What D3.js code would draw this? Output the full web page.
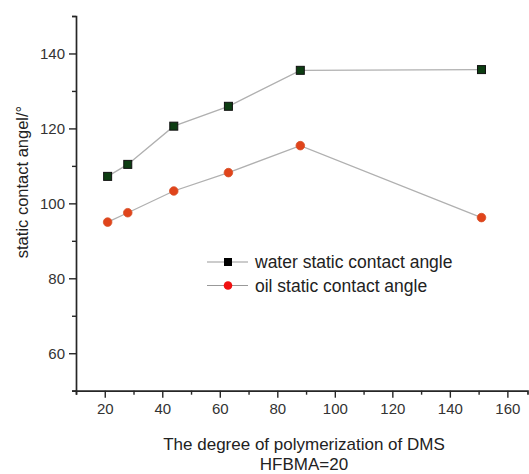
<!DOCTYPE html>
<html>
<head>
<meta charset="utf-8">
<script src="https://cdn.jsdelivr.net/npm/d3@7"></script>
<style>
  html, body { margin: 0; padding: 0; background: #fff; }
  svg { display: block; font-family: "Liberation Sans", Arial, sans-serif; }
</style>
</head>
<body>
<svg id="chart" width="529" height="474"></svg>
<script>
// Degree of polymerization of DMS (x) and static contact angles (y, degrees)
const dpDMS = [21, 28, 44, 63, 88, 151];
const waterAngle = [107.2, 110.4, 120.6, 125.9, 135.5, 135.7];
const oilAngle = [95.0, 97.5, 103.3, 108.2, 115.4, 96.2];
const xTicks = [20, 40, 60, 80, 100, 120, 140, 160];
const yTicks = [60, 80, 100, 120, 140];
const seriesNames = ["water static contact angle", "oil static contact angle"];

const svg = d3.select("#chart");
const x = d3.scaleLinear().domain([10, 167]).range([76, 527.5]);
const y = d3.scaleLinear().domain([50, 150]).range([390.7, 16]);

const axisColor = "#262626";

// X axis: labelled majors every 20, minors every 10
const gx = svg.append("g").attr("transform", `translate(0,${y(50)})`);
gx.call(d3.axisBottom(x).tickValues(d3.range(10, 170, 10)).tickSize(4).tickFormat(""));
gx.call(g => g.selectAll(".tick").filter(d => xTicks.includes(d)).select("line").attr("y2", 7));
gx.selectAll(".tick").filter(d => xTicks.includes(d)).append("text")
  .attr("y", 13).attr("dy", "0.71em").attr("fill", "#333").attr("font-size", 15)
  .attr("text-anchor", "middle").text(d => d);

// Y axis: labelled majors every 20, minors every 10
const gy = svg.append("g").attr("transform", `translate(${x(10)},0)`);
gy.call(d3.axisLeft(y).tickValues(d3.range(50, 151, 10)).tickSize(4).tickFormat(""));
gy.call(g => g.selectAll(".tick").filter(d => yTicks.includes(d)).select("line").attr("x2", -7));
gy.selectAll(".tick").filter(d => yTicks.includes(d)).append("text")
  .attr("x", -11).attr("dy", "0.35em").attr("fill", "#333").attr("font-size", 15)
  .attr("text-anchor", "end").text(d => d);

svg.selectAll(".domain").attr("stroke", axisColor).attr("stroke-width", 1.7);
svg.selectAll(".tick line").attr("stroke", axisColor).attr("stroke-width", 1.4);

// Series lines
const line = d3.line().x(d => x(d[0])).y(d => y(d[1]));
const waterPts = dpDMS.map((v, i) => [v, waterAngle[i]]);
const oilPts = dpDMS.map((v, i) => [v, oilAngle[i]]);

[waterPts, oilPts].forEach(pts => {
  svg.append("path").datum(pts).attr("d", line)
    .attr("fill", "none").attr("stroke", "#b0b0b0").attr("stroke-width", 1.3);
});

// Markers
svg.append("g").selectAll("rect").data(waterPts).join("rect")
  .attr("x", d => x(d[0]) - 4).attr("y", d => y(d[1]) - 4)
  .attr("width", 8).attr("height", 8)
  .attr("fill", "#0d3d12").attr("stroke", "#111").attr("stroke-width", 1);

svg.append("g").selectAll("circle").data(oilPts).join("circle")
  .attr("cx", d => x(d[0])).attr("cy", d => y(d[1])).attr("r", 4.3)
  .attr("fill", "#e0441b").attr("stroke", "#d8522a").attr("stroke-width", 0.8);

// Legend
const legend = svg.append("g").attr("transform", "translate(207,262)");
seriesNames.forEach((name, i) => {
  const row = legend.append("g").attr("transform", `translate(0,${i * 23.5})`);
  row.append("line").attr("x1", 0).attr("x2", 41).attr("y1", 0).attr("y2", 0)
    .attr("stroke", "#999").attr("stroke-width", 1.2);
  if (i === 0) {
    row.append("rect").attr("x", 17).attr("y", -4).attr("width", 8).attr("height", 8).attr("fill", "#000");
  } else {
    row.append("circle").attr("cx", 21).attr("cy", 0).attr("r", 4.3).attr("fill", "#f01010");
  }
  row.append("text").attr("x", 48).attr("dy", "0.35em").attr("font-size", 17.5)
    .attr("fill", "#222").text(name);
});

// Axis titles
svg.append("text").attr("x", 304).attr("y", 450).attr("text-anchor", "middle")
  .attr("font-size", 17).attr("fill", "#222").text("The degree of polymerization of DMS");
svg.append("text").attr("x", 304).attr("y", 470).attr("text-anchor", "middle")
  .attr("font-size", 17).attr("fill", "#222").text("HFBMA=20");

svg.append("text").attr("transform", "translate(28,182) rotate(-90)")
  .attr("text-anchor", "middle").attr("font-size", 16.5).attr("fill", "#222")
  .text("static contact angel/°");
</script>
</body>
</html>
